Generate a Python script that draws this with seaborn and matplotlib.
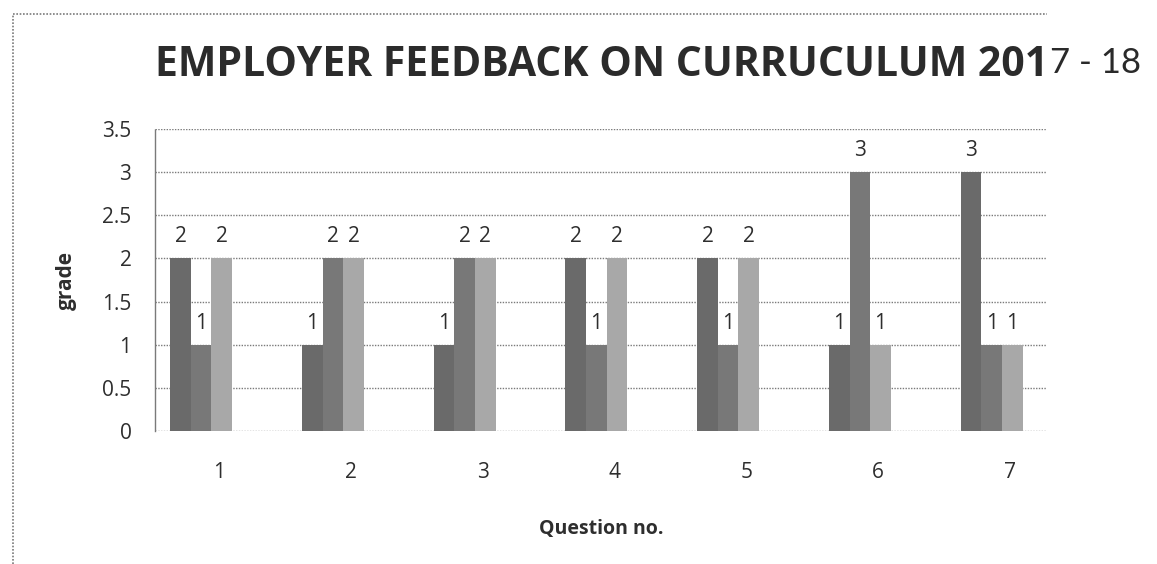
import numpy as np
import pandas as pd
import matplotlib
matplotlib.use('Agg')
import matplotlib.pyplot as plt
import matplotlib.transforms as mtransforms
from matplotlib.lines import Line2D
import seaborn as sns

# %%
# Values
questions = ['1', '2', '3', '4', '5', '6', '7']
series_a = [2, 1, 1, 2, 2, 1, 3]
series_b = [1, 2, 2, 1, 1, 3, 1]
series_c = [2, 2, 2, 2, 2, 1, 1]
series_names = ['Series1', 'Series2', 'Series3']
bar_colors = ['#6a6a6a', '#787878', '#a8a8a8']
y_ticks = [0, 0.5, 1, 1.5, 2, 2.5, 3, 3.5]

df = pd.DataFrame({
    'question': questions * 3,
    'series': np.repeat(series_names, len(questions)),
    'grade': series_a + series_b + series_c,
})

# %%
sns.set_theme(style='white')
plt.rcParams['font.family'] = ['Open Sans', 'DejaVu Sans']
text_col = '#2e2e2e'

fig = plt.figure(figsize=(11.57, 5.64), dpi=100)
ax = fig.add_axes([155 / 1157, 1 - 431 / 564, (1047 - 155) / 1157, (431 - 129) / 564])

sns.barplot(data=df, x='question', y='grade', hue='series', palette=bar_colors,
            width=0.47, gap=0, saturation=1, linewidth=0, legend=False, ax=ax)

for cont in ax.containers:
    ax.bar_label(cont, fmt='%g', padding=8, fontsize=15, color=text_col)

ax.set_ylim(0, 3.5)
ax.set_yticks(y_ticks)
ax.set_yticklabels([f'{t:g}' for t in y_ticks])
ax.set_xlim(-0.35, 6.42)

dotted = (0, (1, 1))
ax.yaxis.grid(True, linestyle=dotted, color='#7a7a7a', linewidth=1)
ax.set_axisbelow(True)
for side in ['top', 'right', 'bottom']:
    ax.spines[side].set_visible(False)
ax.spines['left'].set_linestyle(dotted)
ax.spines['left'].set_color('#7a7a7a')
ax.spines['left'].set_linewidth(1)

ax.tick_params(axis='y', length=0, pad=17, labelsize=15, labelcolor=text_col)
ax.tick_params(axis='x', length=0, pad=22, labelsize=15, labelcolor=text_col)
# category labels sit a little right of the bar groups in the original
shift = mtransforms.ScaledTranslation(18 / 100, 0, fig.dpi_scale_trans)
for lbl in ax.get_xticklabels():
    lbl.set_transform(lbl.get_transform() + shift)

ax.set_xlabel('Question no.', fontsize=14, fontweight='bold', color=text_col, labelpad=26)
ax.set_ylabel('grade', fontsize=15, fontweight='bold', color=text_col, labelpad=18)

# title: typed part plus handwritten year ending
fig.text(155 / 1157, 1 - 66 / 564, 'EMPLOYER FEEDBACK ON CURRUCULUM 201',
         fontsize=29.5, fontweight='bold', color='#2b2b2b', va='center', ha='left')
fig.text(1050 / 1157, 1 - 63 / 564, '7 - 18', fontsize=25, family=['Lato', 'DejaVu Sans'],
         fontweight='normal', color='#2a2a2a', va='center', ha='left')

# chart-area border (left and top edges visible in the scan)
border = dict(transform=fig.transFigure, linestyle=dotted, color='#7a7a7a', linewidth=1.2)
fig.add_artist(Line2D([13 / 1157, 13 / 1157], [0, 1 - 14 / 564], **border))
fig.add_artist(Line2D([13 / 1157, 1047 / 1157], [1 - 14 / 564, 1 - 14 / 564], **border))

fig.savefig('out.png', dpi=100)
